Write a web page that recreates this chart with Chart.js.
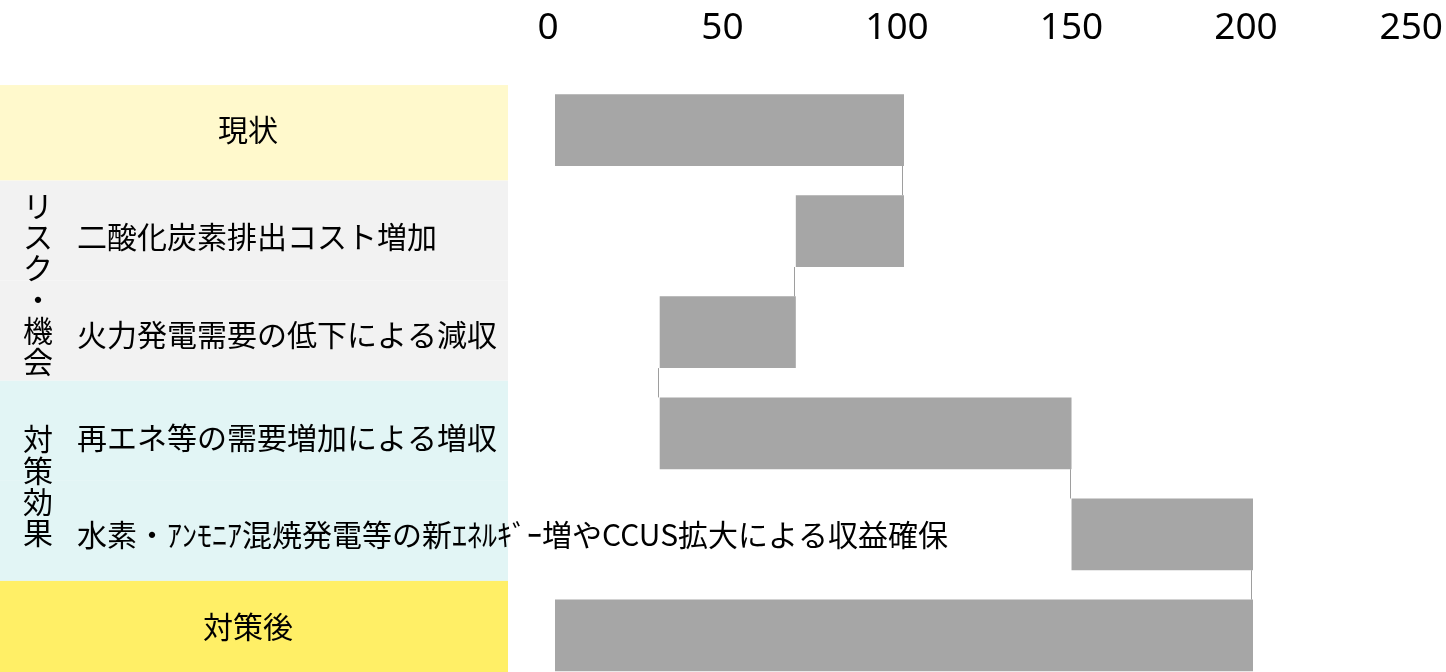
<!DOCTYPE html>
<html lang="ja">
<head>
<meta charset="utf-8">
<title>対策効果</title>
<script src="https://cdn.jsdelivr.net/npm/chart.js@4.4.1/dist/chart.umd.min.js"></script>
<style>
  html, body { margin: 0; padding: 0; background: #fff; overflow: hidden; }
  #wrap { position: relative; width: 1446px; height: 686px; }
</style>
</head>
<body>
<div id="wrap"><canvas id="waterfall"></canvas></div>
<script>
const categories = [
  '現状',
  '二酸化炭素排出コスト増加',
  '火力発電需要の低下による減収',
  '再エネ等の需要増加による増収',
  '水素・ｱﾝﾓﾆｱ混焼発電等の新ｴﾈﾙｷﾞｰ増やCCUS拡大による収益確保',
  '対策後'
];
const barStart = [0, 69, 30, 30, 148, 0];
const barEnd = [100, 100, 69, 148, 200, 200];
const xTicks = [0, 50, 100, 150, 200, 250];
const groupLabels = ['リスク・機会', '対策効果'];
const groupRows = [[1, 2], [3, 4]];

const rowColors = ['#FFF9CC', '#F2F2F2', '#F2F2F2', '#E2F5F5', '#E2F5F5', '#FFEF66'];
const labelShift = [0, 5, 2, 4, 0, -9];
const centeredRows = [0, 5];
const labelFont = "30px 'Noto Sans CJK JP', sans-serif";
const panelWidth = 508;

// left side: coloured bands, row labels and vertical group labels
const sidePanel = {
  id: 'sidePanel',
  beforeDatasetsDraw(chart) {
    const { ctx, scales: { y } } = chart;
    const n = categories.length;
    const edge = i => (y.getPixelForValue(i) + y.getPixelForValue(i + 1)) / 2 - i;
    ctx.save();
    for (let i = 0; i < n; i++) {
      const top = i === 0 ? y.getPixelForValue(0) - 45 : edge(i - 1);
      const bottom = i === n - 1 ? chart.height : edge(i);
      ctx.fillStyle = rowColors[i];
      ctx.fillRect(0, top, panelWidth, bottom - top);
    }
    ctx.restore();
  },
  afterDatasetsDraw(chart) {
    const { ctx, scales: { y } } = chart;
    ctx.save();
    ctx.font = labelFont;
    ctx.fillStyle = '#000';
    ctx.textBaseline = 'middle';
    categories.forEach((label, i) => {
      const cy = y.getPixelForValue(i) + labelShift[i];
      if (centeredRows.includes(i)) {
        ctx.textAlign = 'center';
        ctx.fillText(label, 248, cy);
      } else {
        ctx.textAlign = 'left';
        ctx.fillText(label, 77, cy);
      }
    });
    ctx.textAlign = 'center';
    groupLabels.forEach((label, g) => {
      const [a, b] = groupRows[g];
      const cy = (y.getPixelForValue(a) + y.getPixelForValue(b)) / 2 + 2;
      const chars = [...label];
      const step = 31.3;
      chars.forEach((ch, k) => {
        ctx.fillText(ch, 38, cy + (k - (chars.length - 1) / 2) * step);
      });
    });
    ctx.restore();
  }
};

// thin connectors between consecutive waterfall bars
const connectors = {
  id: 'connectors',
  afterDatasetsDraw(chart) {
    const { ctx, scales: { x } } = chart;
    const bars = chart.getDatasetMeta(0).data;
    ctx.save();
    ctx.strokeStyle = '#9E9E9E';
    ctx.lineWidth = 1;
    for (let i = 0; i < bars.length - 1; i++) {
      const v = [barStart[i], barEnd[i]].find(a => a === barStart[i + 1] || a === barEnd[i + 1]);
      if (v === undefined) continue;
      const px = Math.round(x.getPixelForValue(v)) - 1.5;
      const y1 = bars[i].y + bars[i].height / 2;
      const y2 = bars[i + 1].y - bars[i + 1].height / 2;
      ctx.beginPath();
      ctx.moveTo(px, y1);
      ctx.lineTo(px, y2);
      ctx.stroke();
    }
    ctx.restore();
  }
};

new Chart(document.getElementById('waterfall'), {
  type: 'bar',
  data: {
    labels: categories,
    datasets: [{
      data: barStart.map((s, i) => [s, barEnd[i]]),
      backgroundColor: '#A6A6A6',
      borderWidth: 0,
      barPercentage: 0.71,
      categoryPercentage: 1
    }]
  },
  options: {
    indexAxis: 'y',
    responsive: true,
    maintainAspectRatio: false,
    animation: false,
    layout: { padding: { left: 555, right: 18.5, top: 6.5, bottom: 0 } },
    plugins: { legend: { display: false }, tooltip: { enabled: false } },
    scales: {
      x: {
        position: 'top',
        min: 0,
        max: 250,
        grid: { display: false, drawTicks: false },
        border: { display: false },
        afterBuildTicks: s => { s.ticks = xTicks.map(v => ({ value: v })); },
        afterFit: s => { s.paddingLeft = 0; s.paddingRight = 0; s.height = 73; },
        ticks: {
          font: { family: "'Noto Sans', sans-serif", size: 37 },
          color: '#000',
          padding: 29,
          labelOffset: -7,
          maxRotation: 0,
          autoSkip: false,
          callback: v => v === 250 ? v + '\u2002' : String(v)
        }
      },
      y: { display: false, offset: true }
    }
  },
  plugins: [sidePanel, connectors]
});
</script>
</body>
</html>
